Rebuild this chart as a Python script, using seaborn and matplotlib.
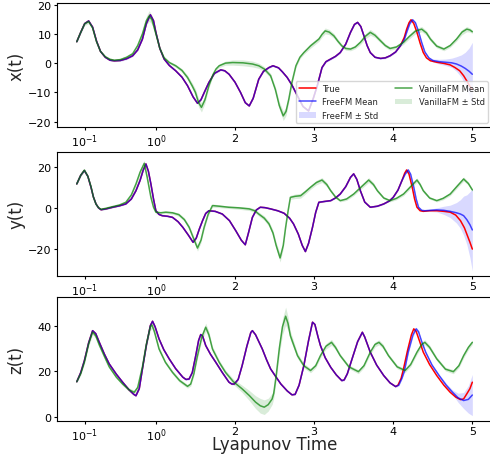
import pandas as pd
import matplotlib
matplotlib.use("Agg")
import matplotlib.pyplot as plt
import seaborn as sns

# Each series: (t, value) or (t, mean, std) rows.

# ---------------- x(t) ----------------
x_true = [(0.0, 7.3), (0.05, 10.5), (0.10, 13.5), (0.15, 14.4), (0.20, 12.3), (0.25, 7.5),
          (0.30, 4.0), (0.36, 2.0), (0.42, 1.0), (0.474, 0.8), (0.55, 0.9), (0.63, 1.5),
          (0.706, 2.5), (0.77, 4.5), (0.83, 8.2), (0.88, 13.5), (0.93, 16.5), (0.97, 14.5),
          (1.0, 10.5), (1.05, 5.0), (1.104, 1.4), (1.17, -0.8), (1.25, -2.6), (1.33, -4.8),
          (1.40, -7.7), (1.47, -11.5), (1.526, -13.7), (1.57, -12.5), (1.62, -9.5), (1.67, -6.6),
          (1.74, -3.5), (1.82, -2.3), (1.87, -2.6), (1.925, -3.8), (2.0, -6.5), (2.07, -10.0),
          (2.13, -13.5), (2.18, -14.6), (2.23, -12.0), (2.30, -5.5), (2.36, -2.8), (2.43, -1.5),
          (2.48, -0.9), (2.55, -1.6), (2.60, -3.0), (2.66, -4.9), (2.72, -7.5), (2.79, -11.2),
          (2.86, -14.8), (2.93, -16.3), (2.99, -12.0), (3.04, -7.7), (3.10, -1.5), (3.15, 0.5),
          (3.21, 1.4), (3.27, 2.3), (3.33, 3.6), (3.40, 6.5), (3.46, 10.5), (3.51, 13.2),
          (3.55, 13.9), (3.59, 12.5), (3.63, 9.3), (3.67, 6.0), (3.71, 3.6), (3.77, 2.0),
          (3.84, 1.6), (3.90, 1.8), (3.96, 2.5), (4.03, 3.8), (4.09, 5.9), (4.14, 8.8),
          (4.17, 11.6), (4.20, 13.8), (4.225, 14.8), (4.26, 13.5), (4.30, 10.5), (4.34, 6.8),
          (4.38, 3.6), (4.42, 1.8), (4.47, 0.8), (4.55, 0.3), (4.64, -0.1), (4.72, -0.6),
          (4.78, -1.5), (4.84, -2.6), (4.89, -4.3), (4.94, -6.5), (4.97, -8.0), (5.0, -9.0)]
x_free_tail = [(4.14, 8.0, 0.3), (4.17, 10.5, 0.3), (4.21, 13.5, 0.3), (4.245, 14.8, 0.3),
               (4.28, 13.8, 0.3), (4.32, 10.8, 0.3), (4.36, 7.0, 0.3), (4.40, 3.8, 0.3),
               (4.45, 1.8, 0.3), (4.50, 0.9, 0.5), (4.58, 0.5, 0.8), (4.66, 0.3, 1.1),
               (4.74, 0.1, 1.6), (4.80, -0.3, 2.5), (4.86, -1.0, 3.8), (4.91, -1.8, 5.5),
               (4.96, -2.8, 8.0), (5.0, -3.8, 10.9)]
x_free = [(t, v, 0.3) for t, v in x_true if t <= 4.09] + x_free_tail
x_vanilla = [(0.0, 7.3, 0.3), (0.05, 10.5, 0.4), (0.10, 13.4, 0.6), (0.15, 14.2, 0.7),
             (0.20, 12.0, 0.6), (0.25, 7.3, 0.5), (0.30, 4.0, 0.4), (0.36, 2.2, 0.4),
             (0.42, 1.3, 0.4), (0.474, 1.0, 0.4), (0.55, 1.2, 0.4), (0.63, 2.0, 0.5),
             (0.706, 3.2, 0.5), (0.77, 6.0, 0.7), (0.83, 10.0, 1.0), (0.88, 14.5, 1.5),
             (0.915, 16.1, 1.8), (0.95, 14.8, 1.5), (1.0, 10.0, 1.0), (1.05, 5.0, 0.8),
             (1.104, 1.8, 0.6), (1.17, 0.2, 0.5), (1.25, -0.9, 0.5), (1.33, -2.5, 0.6),
             (1.40, -4.9, 0.8), (1.46, -7.8, 1.0), (1.50, -10.0, 1.2), (1.54, -13.5, 1.5),
             (1.576, -15.1, 1.6), (1.62, -12.5, 1.2), (1.67, -7.7, 0.8), (1.72, -4.0, 0.6),
             (1.76, -2.0, 0.6), (1.80, -0.9, 0.6), (1.88, 0.0, 0.7), (1.97, 0.2, 0.9),
             (2.10, 0.1, 1.0), (2.22, -0.3, 1.0), (2.30, -0.9, 0.9), (2.37, -2.0, 0.8),
             (2.45, -4.3, 0.8), (2.51, -9.0, 1.0), (2.56, -14.5, 1.3), (2.61, -18.0, 1.6),
             (2.645, -16.5, 1.4), (2.68, -12.3, 1.0), (2.72, -6.5, 0.8), (2.77, -0.9, 0.7),
             (2.82, 2.0, 0.6), (2.87, 3.6, 0.6), (2.955, 5.9, 0.8), (3.06, 8.2, 0.8),
             (3.10, 9.8, 0.9), (3.14, 11.0, 1.0), (3.19, 10.6, 0.9), (3.25, 9.3, 0.8),
             (3.30, 7.5, 0.7), (3.35, 5.9, 0.6), (3.40, 5.0, 0.6), (3.46, 4.8, 0.6),
             (3.52, 5.5, 0.6), (3.585, 7.1, 0.8), (3.65, 9.2, 0.9), (3.71, 10.5, 1.0),
             (3.77, 9.5, 0.8), (3.84, 7.6, 0.7), (3.90, 6.0, 0.6), (3.96, 5.0, 0.6),
             (4.04, 5.5, 0.6), (4.13, 7.1, 0.7), (4.20, 9.0, 0.8), (4.28, 10.9, 0.9),
             (4.36, 11.6, 0.9), (4.42, 10.3, 0.8), (4.47, 8.2, 0.7), (4.55, 5.8, 0.6),
             (4.64, 4.8, 0.6), (4.72, 6.0, 0.6), (4.80, 8.2, 0.7), (4.87, 10.6, 0.9),
             (4.93, 11.6, 0.9), (4.97, 11.3, 0.7), (5.0, 10.7, 0.6)]

# ---------------- y(t) ----------------
y_true = [(0.0, 11.8), (0.05, 16.0), (0.096, 18.3), (0.14, 15.5), (0.18, 10.2), (0.21, 5.5),
          (0.243, 2.1), (0.275, 0.2), (0.306, -0.7), (0.37, -0.3), (0.454, 0.5), (0.54, 1.2),
          (0.62, 2.1), (0.69, 4.5), (0.748, 8.5), (0.80, 13.5), (0.84, 18.5), (0.874, 21.5),
          (0.905, 18.0), (0.937, 11.8), (0.97, 4.5), (1.0, -1.2), (1.04, -3.0), (1.08, -3.6),
          (1.15, -3.9), (1.21, -4.4), (1.28, -6.5), (1.34, -9.2), (1.41, -13.0), (1.47, -16.5),
          (1.51, -14.5), (1.55, -10.0), (1.59, -6.0), (1.63, -2.5), (1.67, -1.2), (1.75, -1.5),
          (1.84, -2.8), (1.93, -6.0), (2.01, -10.9), (2.08, -15.5), (2.13, -17.7), (2.17, -12.0),
          (2.22, -4.4), (2.27, -0.8), (2.32, 0.5), (2.38, 0.3), (2.45, -0.3), (2.54, -1.2),
          (2.62, -2.4), (2.69, -4.8), (2.74, -7.6), (2.80, -12.5), (2.85, -18.0), (2.89, -21.0),
          (2.93, -17.0), (2.98, -9.2), (3.02, -2.0), (3.06, 2.9), (3.13, 3.3), (3.21, 3.7),
          (3.27, 5.0), (3.33, 6.9), (3.40, 10.5), (3.46, 15.0), (3.50, 16.7), (3.54, 14.0),
          (3.585, 8.5), (3.64, 3.0), (3.71, 0.5), (3.80, 1.0), (3.88, 2.1), (3.95, 3.5),
          (4.0, 5.3), (4.06, 8.8), (4.11, 13.4), (4.145, 17.0), (4.17, 18.6), (4.20, 16.5),
          (4.24, 10.2), (4.27, 4.5), (4.30, 0.5), (4.34, -1.2), (4.38, -1.5), (4.46, -1.2),
          (4.55, -1.2), (4.64, -1.5), (4.72, -1.9), (4.79, -3.3), (4.85, -6.0), (4.90, -9.5),
          (4.93, -12.5), (4.97, -16.5), (5.0, -19.8)]
y_free_tail = [(4.15, 16.5, 0.3), (4.19, 18.6, 0.3), (4.22, 16.5, 0.3), (4.26, 10.2, 0.3),
               (4.29, 4.5, 0.3), (4.32, 0.5, 0.3), (4.36, -1.0, 0.3), (4.40, -1.2, 0.3),
               (4.47, -1.0, 0.6), (4.55, -0.8, 1.0), (4.64, -1.0, 2.0), (4.72, -1.5, 3.0),
               (4.80, -2.2, 5.0), (4.85, -2.8, 7.0), (4.89, -3.6, 9.5), (4.93, -5.5, 12.0),
               (4.97, -8.0, 16.0), (5.0, -10.5, 20.0)]
y_free = [(t, v, 0.3) for t, v in y_true if t <= 4.11] + y_free_tail
y_vanilla = [(0.0, 11.8, 0.4), (0.05, 16.0, 0.6), (0.096, 18.5, 0.8), (0.14, 15.5, 0.7),
             (0.18, 10.5, 0.6), (0.21, 5.5, 0.5), (0.243, 2.0, 0.5), (0.275, 0.3, 0.5),
             (0.306, -0.5, 0.5), (0.37, 0.0, 0.5), (0.454, 0.8, 0.5), (0.54, 1.6, 0.5),
             (0.62, 2.9, 0.6), (0.69, 6.5, 0.8), (0.748, 11.8, 1.0), (0.80, 17.5, 1.3),
             (0.853, 21.8, 1.5), (0.89, 15.0, 1.2), (0.937, 5.3, 1.0), (0.97, 0.5, 0.9),
             (1.0, -1.9, 0.8), (1.06, -2.2, 0.7), (1.126, -1.9, 0.6), (1.21, -2.2, 0.7),
             (1.29, -3.1, 0.8), (1.36, -5.5, 0.9), (1.42, -9.2, 1.0), (1.48, -15.0, 1.3),
             (1.526, -19.3, 1.5), (1.57, -15.5, 1.2), (1.61, -9.2, 1.0), (1.66, -3.0, 0.9),
             (1.715, 1.3, 0.8), (1.80, 1.0, 0.7), (1.92, 0.5, 0.6), (2.05, 0.2, 0.7),
             (2.18, -0.3, 0.8), (2.25, -1.2, 0.9), (2.30, -2.8, 1.0), (2.37, -4.8, 1.1),
             (2.43, -7.6, 1.2), (2.48, -12.0, 1.4), (2.52, -18.0, 1.6), (2.57, -24.1, 2.0),
             (2.61, -18.0, 1.6), (2.64, -9.2, 1.2), (2.67, -1.5, 1.0), (2.70, 5.3, 1.0),
             (2.76, 5.8, 1.1), (2.83, 6.1, 1.2), (2.89, 8.0, 1.1), (2.955, 10.2, 1.0),
             (3.03, 12.5, 1.1), (3.10, 13.7, 1.2), (3.16, 11.5, 1.0), (3.21, 8.5, 0.8),
             (3.27, 5.5, 0.7), (3.33, 3.7, 0.6), (3.41, 4.5, 0.7), (3.50, 6.9, 0.8),
             (3.60, 10.5, 1.0), (3.69, 13.7, 1.2), (3.75, 11.5, 1.0), (3.80, 8.5, 0.8),
             (3.88, 5.0, 0.6), (3.96, 3.7, 0.6), (4.04, 4.8, 0.7), (4.13, 6.9, 0.8),
             (4.22, 10.5, 0.9), (4.30, 13.7, 1.0), (4.34, 11.5, 0.9), (4.38, 8.5, 0.8),
             (4.46, 5.0, 0.6), (4.55, 3.7, 0.6), (4.63, 4.8, 0.7), (4.72, 6.9, 0.8),
             (4.81, 10.8, 0.9), (4.89, 14.2, 1.0), (4.95, 12.0, 0.8), (5.0, 8.9, 0.7)]

# ---------------- z(t) ----------------
z_true = [(0.0, 15.5), (0.05, 19.5), (0.096, 24.7), (0.15, 32.5), (0.20, 37.8), (0.24, 36.5),
          (0.285, 32.7), (0.35, 27.5), (0.41, 23.3), (0.50, 18.8), (0.58, 15.3), (0.66, 12.0),
          (0.72, 10.0), (0.748, 9.4), (0.79, 12.5), (0.83, 21.1), (0.88, 31.5), (0.93, 40.0),
          (0.958, 41.9), (0.99, 39.5), (1.04, 34.2), (1.10, 29.5), (1.168, 25.5), (1.25, 21.2),
          (1.34, 17.5), (1.38, 16.5), (1.42, 16.7), (1.46, 19.5), (1.504, 26.9), (1.54, 33.5),
          (1.567, 36.1), (1.59, 35.5), (1.63, 31.3), (1.69, 27.5), (1.757, 24.0), (1.84, 19.5),
          (1.924, 15.3), (1.96, 14.5), (1.99, 14.5), (2.04, 16.5), (2.09, 22.5), (2.15, 31.0),
          (2.20, 37.0), (2.22, 37.8), (2.26, 36.0), (2.345, 29.8), (2.40, 25.0), (2.45, 21.1),
          (2.52, 17.5), (2.58, 14.5), (2.66, 11.5), (2.72, 9.8), (2.76, 10.0), (2.81, 14.0),
          (2.87, 22.5), (2.93, 33.5), (2.98, 41.5), (3.01, 40.5), (3.05, 35.0), (3.08, 31.3),
          (3.14, 26.0), (3.21, 21.8), (3.28, 18.5), (3.35, 16.0), (3.38, 16.3), (3.42, 19.0),
          (3.48, 25.5), (3.55, 33.0), (3.61, 37.1), (3.64, 35.0), (3.71, 28.4), (3.79, 22.8),
          (3.88, 18.2), (3.96, 15.0), (4.03, 13.4), (4.06, 14.0), (4.10, 17.0), (4.13, 21.1),
          (4.18, 29.0), (4.23, 36.0), (4.26, 38.6), (4.29, 37.5), (4.33, 33.5), (4.38, 28.4),
          (4.46, 23.0), (4.55, 18.2), (4.64, 14.0), (4.72, 10.9), (4.79, 8.8), (4.85, 7.7),
          (4.89, 8.0), (4.93, 10.2), (4.97, 12.5), (5.0, 15.3)]
z_free_tail = [(4.07, 14.0, 0.4), (4.11, 17.0, 0.5), (4.14, 20.0, 0.6), (4.19, 28.5, 0.8),
               (4.25, 36.0, 0.8), (4.29, 38.6, 0.8), (4.32, 37.3, 0.7), (4.36, 33.0, 0.6),
               (4.41, 28.4, 0.5), (4.49, 22.8, 0.5), (4.58, 18.2, 0.6), (4.67, 14.0, 0.8),
               (4.75, 10.9, 1.0), (4.82, 8.5, 2.0), (4.89, 7.3, 3.5), (4.95, 7.8, 6.0),
               (5.0, 9.7, 9.0)]
z_free = [(t, v, 0.4) for t, v in z_true if t <= 4.03] + z_free_tail
z_vanilla = [(0.0, 15.5, 0.4), (0.05, 19.0, 0.6), (0.096, 24.0, 0.8), (0.15, 32.0, 1.0),
             (0.20, 37.2, 1.2), (0.24, 35.5, 1.0), (0.285, 31.5, 0.8), (0.35, 26.5, 0.7),
             (0.41, 22.0, 0.6), (0.50, 17.5, 0.6), (0.58, 14.5, 0.7), (0.66, 12.0, 0.8),
             (0.726, 10.9, 0.9), (0.77, 13.0, 1.0), (0.83, 22.0, 1.2), (0.88, 32.0, 1.4),
             (0.93, 39.5, 1.6), (0.95, 40.3, 1.6), (0.98, 37.5, 1.4), (1.04, 29.8, 1.0),
             (1.12, 24.0, 0.8), (1.21, 19.6, 0.8), (1.30, 16.0, 0.8), (1.40, 13.5, 0.8),
             (1.44, 14.5, 0.9), (1.48, 19.0, 1.0), (1.52, 26.0, 1.2), (1.58, 35.0, 1.6),
             (1.63, 39.3, 1.8), (1.67, 36.0, 1.5), (1.715, 29.8, 1.2), (1.80, 24.0, 1.0),
             (1.88, 19.6, 1.0), (1.98, 15.5, 1.2), (2.09, 12.4, 1.6), (2.18, 9.5, 2.2),
             (2.26, 6.6, 2.8), (2.32, 5.0, 3.2), (2.37, 4.4, 3.2), (2.42, 5.5, 2.8),
             (2.47, 8.0, 2.4), (2.49, 10.5, 2.2), (2.52, 18.0, 2.2), (2.56, 30.0, 2.8),
             (2.60, 39.5, 3.5), (2.64, 44.1, 4.0), (2.67, 41.0, 3.0), (2.70, 35.6, 2.0),
             (2.79, 26.9, 1.2), (2.87, 22.5, 1.0), (2.955, 20.4, 1.0), (3.02, 22.5, 0.9),
             (3.08, 26.9, 1.0), (3.15, 31.0, 1.2), (3.22, 32.7, 1.3), (3.27, 30.5, 1.0),
             (3.33, 26.9, 0.8), (3.44, 22.0, 0.8), (3.56, 19.9, 0.9), (3.63, 22.5, 0.9),
             (3.71, 28.4, 1.0), (3.77, 31.8, 1.1), (3.82, 32.7, 1.1), (3.87, 31.0, 1.0),
             (3.94, 26.9, 0.8), (4.05, 22.0, 0.8), (4.15, 20.4, 0.9), (4.22, 23.0, 0.9),
             (4.30, 28.4, 1.0), (4.36, 31.8, 1.1), (4.40, 32.7, 1.1), (4.46, 30.5, 1.0),
             (4.55, 25.5, 0.8), (4.66, 21.0, 0.8), (4.76, 19.9, 0.9), (4.83, 22.5, 0.9),
             (4.89, 26.9, 1.0), (4.95, 30.5, 1.0), (5.0, 32.7, 0.9)]

tick_pos = [0.1, 1, 2, 3, 4, 5]
tick_lbl = [r"$10^{-1}$", r"$10^{0}$", "2", "3", "4", "5"]

panels = [
    ("x(t)", x_true, x_free, x_vanilla, (-21.8, 20.5)),
    ("y(t)", y_true, y_free, y_vanilla, (-32.7, 27.3)),
    ("z(t)", z_true, z_free, z_vanilla, (-1.5, 52.5)),
]

sns.set_style("ticks")
plt.rcParams["font.family"] = ["DejaVu Sans"]
plt.rcParams["axes.edgecolor"] = "black"
plt.rcParams["xtick.color"] = "black"
plt.rcParams["ytick.color"] = "black"

fig = plt.figure(figsize=(4.9, 4.64), dpi=100)
boxes = [(0.1163, 0.7241, 0.888, 0.2672),
         (0.1163, 0.4037, 0.888, 0.2666),
         (0.1163, 0.0912, 0.888, 0.2666)]

for i, (lab, tr, fr, va, ylim) in enumerate(panels):
    ax = fig.add_axes(boxes[i])
    tdf = pd.DataFrame(tr, columns=["t", "v"])
    fdf = pd.DataFrame(fr, columns=["t", "v", "s"])
    vdf = pd.DataFrame(va, columns=["t", "v", "s"])

    sns.lineplot(data=tdf, x="t", y="v", color="red", lw=1.1, ax=ax, label="True")
    sns.lineplot(data=fdf, x="t", y="v", color="blue", alpha=0.7, lw=1.1, ax=ax, label="FreeFM Mean")
    ax.fill_between(fdf["t"], fdf["v"] - fdf["s"], fdf["v"] + fdf["s"], color="blue",
                    alpha=0.15, lw=0, label="FreeFM ± Std")
    sns.lineplot(data=vdf, x="t", y="v", color="green", alpha=0.7, lw=1.1, ax=ax, label="VanillaFM Mean")
    ax.fill_between(vdf["t"], vdf["v"] - vdf["s"], vdf["v"] + vdf["s"], color="green",
                    alpha=0.15, lw=0, label="VanillaFM ± Std")

    ax.set_xlim(-0.25, 5.25)
    ax.set_ylim(*ylim)
    ax.set_xticks(tick_pos)
    ax.set_xticklabels(tick_lbl)
    ax.tick_params(labelsize=8, length=2.5, width=0.8, pad=1.5)
    ax.set_ylabel(lab, fontsize=12)
    ax.yaxis.set_label_coords(-0.072, 0.5)
    if i == 0:
        ax.legend(loc="lower right", ncol=2, fontsize=6)
    else:
        ax.get_legend().remove()
    if i == 2:
        ax.set_xlabel("Lyapunov Time", fontsize=12)
        ax.xaxis.set_label_coords(0.5, -0.115)
    else:
        ax.set_xlabel("")

fig.savefig("out.png", dpi=100)
